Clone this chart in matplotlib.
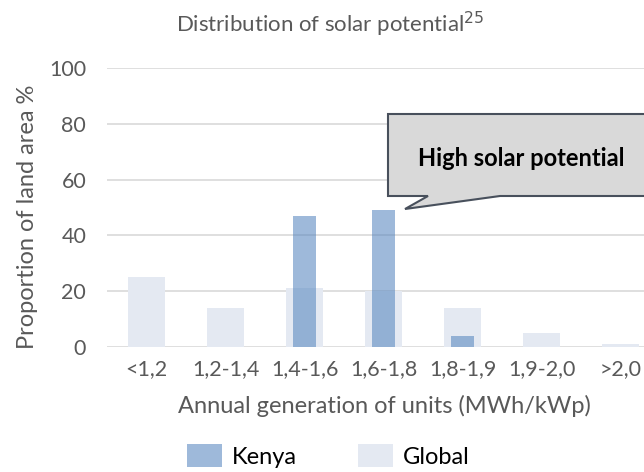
import matplotlib as mpl
mpl.use('Agg')
import matplotlib.pyplot as plt
from matplotlib.patches import Polygon, Patch
import numpy as np

plt.rcParams['font.family'] = ['Lato', 'DejaVu Sans']

categories = ['<1,2', '1,2-1,4', '1,4-1,6', '1,6-1,8', '1,8-1,9', '1,9-2,0', '>2,0']
kenya = [0, 0, 47, 49, 4, 0, 0]
global_share = [25, 14, 21, 20, 14, 5, 1]

grey = '#595959'
W, H = 644, 472

fig = plt.figure(figsize=(6.44, 4.72), dpi=100)
# axes runs off the right edge, like the original
ax = fig.add_axes([107 / W, 1 - 347 / H, 553 / W, 279 / H])

x = np.arange(len(categories))
ax.bar(x, global_share, width=0.47, color='#E4E9F2', zorder=2)
ax.bar(x, kenya, width=0.3, color='#4F81BD', alpha=0.55, zorder=3)

ax.set_xlim(-0.5, len(categories) - 0.5)
ax.set_ylim(0, 100)
ax.set_yticks(range(0, 101, 20))
ax.grid(axis='y', color='#D9D9D9', linewidth=1.2, zorder=0)
ax.set_axisbelow(True)
for s in ax.spines.values():
    s.set_visible(False)
ax.tick_params(length=0, colors=grey, labelsize=15.5)
ax.tick_params(axis='y', pad=15)
ax.tick_params(axis='x', pad=9)
ax.set_xticks(x)
ax.set_xticklabels(categories)

fig.text(330 / W, 1 - 32 / H, 'Distribution of solar potential$^{25}$',
         ha='center', va='baseline', color=grey, fontsize=16)
fig.text(28 / W, 1 - 217 / H, 'Proportion of land area %', rotation=90,
         ha='center', va='center', color=grey, fontsize=17)
fig.text(384 / W, 1 - 406 / H, 'Annual generation of units (MWh/kWp)',
         ha='center', va='center', color=grey, fontsize=17)

handles = [Patch(facecolor='#4F81BD', alpha=0.55, edgecolor='none'),
           Patch(facecolor='#E4E9F2', edgecolor='none')]
fig.legend(handles, ['Kenya', 'Global'], loc='center', ncol=2,
           bbox_to_anchor=(328 / W, 1 - 456 / H), frameon=False,
           fontsize=17, handlelength=1.5, handleheight=1.1,
           handletextpad=0.4, columnspacing=2.6, labelcolor='black',
           borderpad=0, borderaxespad=0)

# callout box
pts = [(388, 114), (670, 114), (670, 196), (500, 196), (405, 209),
       (428, 196), (388, 196)]
poly = Polygon([(px / W, 1 - py / H) for px, py in pts], closed=True,
               transform=fig.transFigure, facecolor='#D9D9D9',
               edgecolor='#48505C', linewidth=1.5, zorder=5)
fig.patches.append(poly)
fig.text(521 / W, 1 - 159 / H, 'High solar potential', ha='center',
         va='center', fontsize=17, fontweight='bold', color='black', zorder=6)

fig.savefig('out.png', dpi=100)
